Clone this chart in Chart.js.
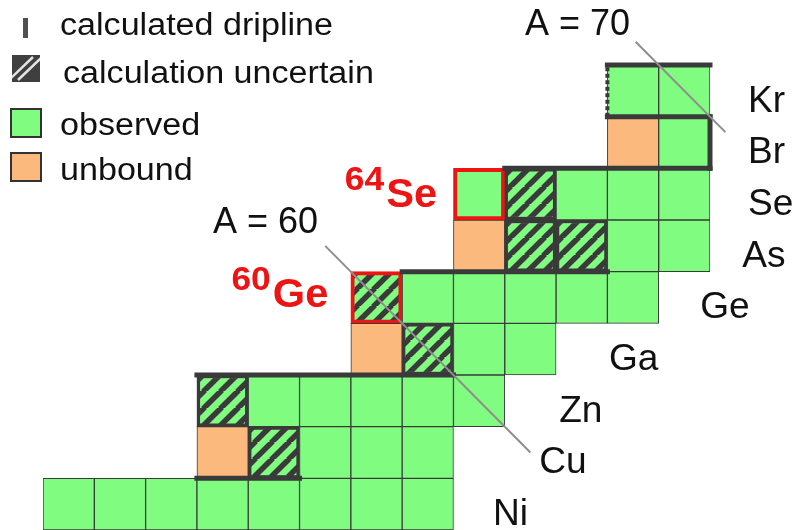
<!DOCTYPE html>
<html>
<head>
<meta charset="utf-8">
<script src="https://cdn.jsdelivr.net/npm/chart.js@4/dist/chart.umd.min.js"></script>
<style>
  html, body { margin: 0; padding: 0; background: #fff; }
  #wrap { position: relative; width: 797px; height: 530px; }
</style>
</head>
<body>
<div id="wrap"><canvas id="chart"></canvas></div>
<script>
// Neutron numbers (columns) and elements (rows, bottom to top)
const neutronNumbers = [22, 23, 24, 25, 26, 27, 28, 29, 30, 31, 32, 33, 34];
const elements = ['Ni', 'Cu', 'Zn', 'Ga', 'Ge', 'As', 'Se', 'Br', 'Kr'];
const protonNumbers = [28, 29, 30, 31, 32, 33, 34, 35, 36];

// One character per neutron number: o observed, u unbound, h calculation uncertain, . none
const cellStatus = [
  'oooooooo.....', // Ni
  '...uhooo.....', // Cu
  '...hooooo....', // Zn
  '......uhoo...', // Ga
  '......hooooo.', // Ge
  '........uhhoo', // As
  '........ohooo', // Se
  '...........uo', // Br
  '...........oo'  // Kr
];

// Nuclei singled out in red
const highlightElements = ['Ge', 'Se'];
const highlightMass = [60, 64];

// Isobar guide lines (A = N + Z) and the neutron range each one spans
const isobarMass = [60, 70];
const isobarRangeN = [[27.0, 31.0], [33.05, 34.8]];

// Calculated dripline, as (N, Z) cell-corner segments
const driplineSegments = [
  [[24.5, 28.5], [26.5, 28.5]],
  [[24.5, 30.5], [29.5, 30.5]],
  [[28.5, 32.5], [32.5, 32.5]],
  [[30.5, 34.5], [34.5, 34.5]],
  [[34.5, 34.5], [34.5, 35.5]],
  [[32.5, 35.5], [34.5, 35.5]],
  [[32.5, 36.5], [34.5, 36.5]]
];
const driplineDashed = [[[32.5, 35.5], [32.5, 36.5]]];

// ---- styling ----
const GREEN = '#80fc80';
const ORANGE = '#fcb97d';
const DARK = '#3a3a3a';
const RED = '#ee1414';
const GREY = '#8e8e8e';
const FONT = '"Liberation Sans", Arial, sans-serif';

function hatchPattern(bg, fg, period, width) {
  const c = document.createElement('canvas');
  c.width = period; c.height = period;
  const g = c.getContext('2d');
  g.fillStyle = bg; g.fillRect(0, 0, period, period);
  g.strokeStyle = fg; g.lineWidth = width;
  for (const k of [-1, 0, 1]) {
    g.beginPath();
    g.moveTo(k * period - 1, period + 1);
    g.lineTo(k * period + period + 1, -1);
    g.stroke();
  }
  return g.createPattern(c, 'repeat');
}
const HATCH = hatchPattern(GREEN, DARK, 17, 5.5);

function isHighlighted(r, c) {
  return highlightElements.some((el, i) =>
    el === elements[r] && highlightMass[i] === protonNumbers[r] + neutronNumbers[c]);
}
function fillFor(s) {
  if (s === 'u') return ORANGE;
  if (s === 'h') return HATCH;
  return GREEN;
}

const cellSets = elements.map((el, r) => ({
  type: 'bar',
  label: el,
  xAxisID: 'x',
  yAxisID: 'y',
  data: neutronNumbers.map((n, c) =>
    cellStatus[r][c] === '.' ? null : [protonNumbers[r] - 0.5, protonNumbers[r] + 0.5]),
  backgroundColor: ctx => fillFor(cellStatus[r][ctx.dataIndex]),
  borderColor: ctx => isHighlighted(r, ctx.dataIndex) ? RED : DARK,
  borderWidth: ctx => isHighlighted(r, ctx.dataIndex) ? 4
    : (cellStatus[r][ctx.dataIndex] === 'h' ? 3.5 : 1),
  borderSkipped: false,
  grouped: false,
  barPercentage: 1,
  categoryPercentage: 1,
  order: 3
}));

const lineBase = {
  type: 'line', xAxisID: 'x2', yAxisID: 'y',
  pointRadius: 0, fill: false, tension: 0, clip: false
};

const driplineSets = driplineSegments.map(seg => Object.assign({}, lineBase, {
  data: seg.map(p => ({ x: p[0], y: p[1] })),
  borderColor: DARK, borderWidth: 5, borderCapStyle: 'square', order: 2
}));
const dashedSets = driplineDashed.map(seg => Object.assign({}, lineBase, {
  data: seg.map(p => ({ x: p[0], y: p[1] })),
  borderColor: DARK, borderWidth: 4, borderDash: [4, 2.5], order: 2
}));
const isobarSets = isobarMass.map((A, i) => Object.assign({}, lineBase, {
  data: isobarRangeN[i].map(n => ({ x: n, y: A - n })),
  borderColor: GREY, borderWidth: 2, order: 1
}));

// Text placement (in N / Z units)
const elementLabelN = [30.27, 31.17, 31.56, 32.53, 34.31, 35.13, 35.24, 35.24, 35.24];
const elementLabelDrop = 0.4;
const isobarLabelAt = [[26.86, 33.25], [32.94, 37.08]];
const highlightLabelAt = [[27.06, 31.82], [29.18, 33.75]];

function drawText(ctx, str, x, y, font, color, align, sx) {
  ctx.save();
  ctx.font = font;
  ctx.fillStyle = color;
  ctx.textBaseline = 'alphabetic';
  ctx.translate(x, y);
  ctx.scale(sx, 1);
  ctx.textAlign = align;
  ctx.fillText(str, 0, 0);
  ctx.restore();
}

const textLayer = {
  id: 'textLayer',
  afterDatasetsDraw(chart) {
    const ctx = chart.ctx;
    const px = n => chart.scales.x2.getPixelForValue(n);
    const py = z => chart.scales.y.getPixelForValue(z);

    // element names beside each row
    elements.forEach((el, r) => {
      drawText(ctx, el, px(elementLabelN[r]), py(protonNumbers[r] - elementLabelDrop),
        '36px ' + FONT, '#111', 'left', 1.03);
    });

    // isobar labels
    isobarMass.forEach((A, i) => {
      drawText(ctx, 'A = ' + A, px(isobarLabelAt[i][0]), py(isobarLabelAt[i][1]),
        '36px ' + FONT, '#111', 'right', 1.0);
    });

    // highlighted nuclei, mass number as superscript
    highlightElements.forEach((el, i) => {
      const right = px(highlightLabelAt[i][0]);
      const base = py(highlightLabelAt[i][1]);
      ctx.save();
      ctx.font = 'bold 40px ' + FONT;
      const wMain = ctx.measureText(el).width * 1.04;
      ctx.font = 'bold 34px ' + FONT;
      const wSup = ctx.measureText(String(highlightMass[i])).width * 1.04;
      ctx.restore();
      drawText(ctx, el, right - wMain, base, 'bold 40px ' + FONT, RED, 'left', 1.04);
      drawText(ctx, String(highlightMass[i]), right - wMain - 2 - wSup, base - 17,
        'bold 34px ' + FONT, RED, 'left', 1.04);
    });

    // key
    ctx.save();
    ctx.fillStyle = '#505050';
    ctx.fillRect(23, 18, 5, 20);

    ctx.fillStyle = '#3f3f3f';
    ctx.fillRect(12, 55, 28, 27);
    ctx.beginPath();
    ctx.rect(12, 55, 28, 27);
    ctx.clip();
    ctx.strokeStyle = '#e4e4e4';
    ctx.lineWidth = 2.5;
    for (const d of [-5, 4]) {
      ctx.beginPath();
      ctx.moveTo(14 + d, 80);
      ctx.lineTo(38 + d, 57);
      ctx.stroke();
    }
    ctx.restore();

    ctx.save();
    ctx.lineWidth = 2;
    ctx.strokeStyle = '#333';
    ctx.fillStyle = GREEN;
    ctx.fillRect(11, 109, 30, 28);
    ctx.strokeRect(11, 109, 30, 28);
    ctx.fillStyle = ORANGE;
    ctx.fillRect(11, 153, 30, 28);
    ctx.strokeRect(11, 153, 30, 28);
    ctx.restore();

    const keyFont = '31px ' + FONT;
    drawText(ctx, 'calculated dripline', 60, 35, keyFont, '#111', 'left', 1.1);
    drawText(ctx, 'calculation uncertain', 63, 83, keyFont, '#111', 'left', 1.1);
    drawText(ctx, 'observed', 60, 135, keyFont, '#111', 'left', 1.1);
    drawText(ctx, 'unbound', 60, 180, keyFont, '#111', 'left', 1.1);
  }
};

new Chart(document.getElementById('chart'), {
  type: 'bar',
  data: {
    labels: neutronNumbers.map(String),
    datasets: [...cellSets, ...driplineSets, ...dashedSets, ...isobarSets]
  },
  options: {
    responsive: true,
    maintainAspectRatio: false,
    animation: false,
    events: [],
    layout: { padding: { left: 43, right: 87, top: 65, bottom: 0 } },
    scales: {
      x: { type: 'category', display: false, offset: true },
      x2: { type: 'linear', display: false, offset: false, min: 21.5, max: 34.5 },
      y: { type: 'linear', display: false, min: 27.5, max: 36.5 }
    },
    plugins: {
      legend: { display: false },
      tooltip: { enabled: false }
    }
  },
  plugins: [textLayer]
});
</script>
</body>
</html>
